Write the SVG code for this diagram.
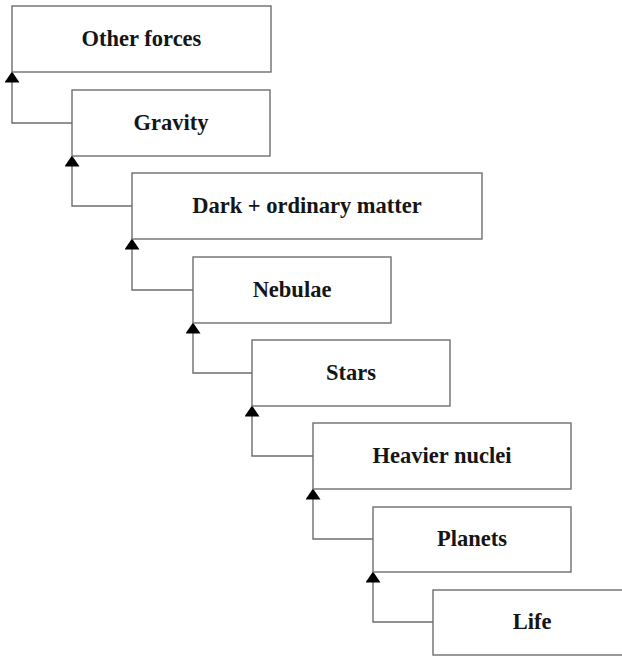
<svg xmlns="http://www.w3.org/2000/svg" width="622" height="656" viewBox="0 0 622 656">
<style>
.box{fill:#fff;stroke:#6e6e6e;stroke-width:1.4}
.lbl{font-family:"Liberation Serif",serif;font-weight:bold;font-size:22.5px;fill:#151515;text-anchor:middle}
.conn{fill:none;stroke:#6e6e6e;stroke-width:1.4}
</style>
<defs>
<marker id="arr" markerUnits="userSpaceOnUse" markerWidth="11" markerHeight="15" viewBox="0 0 11 15" refX="10.5" refY="7.5" orient="auto">
<path d="M0 0 L11 7.5 L0 15 Z" fill="#000"/>
</marker>
</defs>
<rect width="622" height="656" fill="#fff"/>
<g id="connectors">
<path class="conn" d="M72 123 H12 V72" marker-end="url(#arr)"/>
<path class="conn" d="M132 206 H72 V156" marker-end="url(#arr)"/>
<path class="conn" d="M193 290 H132 V239" marker-end="url(#arr)"/>
<path class="conn" d="M252 373 H193 V323" marker-end="url(#arr)"/>
<path class="conn" d="M313 456 H252 V406" marker-end="url(#arr)"/>
<path class="conn" d="M373 539 H313 V489" marker-end="url(#arr)"/>
<path class="conn" d="M433 622 H373 V572" marker-end="url(#arr)"/>
</g>
<g id="other-forces"><rect class="box" x="12" y="6" width="259" height="66"/><text class="lbl" x="141.5" y="46">Other forces</text></g>
<g id="gravity"><rect class="box" x="72" y="90" width="198" height="66"/><text class="lbl" x="171" y="130">Gravity</text></g>
<g id="dark-ordinary-matter"><rect class="box" x="132" y="173" width="350" height="66"/><text class="lbl" x="307" y="213">Dark + ordinary matter</text></g>
<g id="nebulae"><rect class="box" x="193" y="257" width="198" height="66"/><text class="lbl" x="292" y="297">Nebulae</text></g>
<g id="stars"><rect class="box" x="252" y="340" width="198" height="66"/><text class="lbl" x="351" y="380">Stars</text></g>
<g id="heavier-nuclei"><rect class="box" x="313" y="423" width="258" height="66"/><text class="lbl" x="442" y="463">Heavier nuclei</text></g>
<g id="planets"><rect class="box" x="373" y="507" width="198" height="65"/><text class="lbl" x="472" y="546">Planets</text></g>
<g id="life"><rect class="box" x="433" y="590" width="198" height="65"/><text class="lbl" x="532" y="629">Life</text></g>
</svg>
